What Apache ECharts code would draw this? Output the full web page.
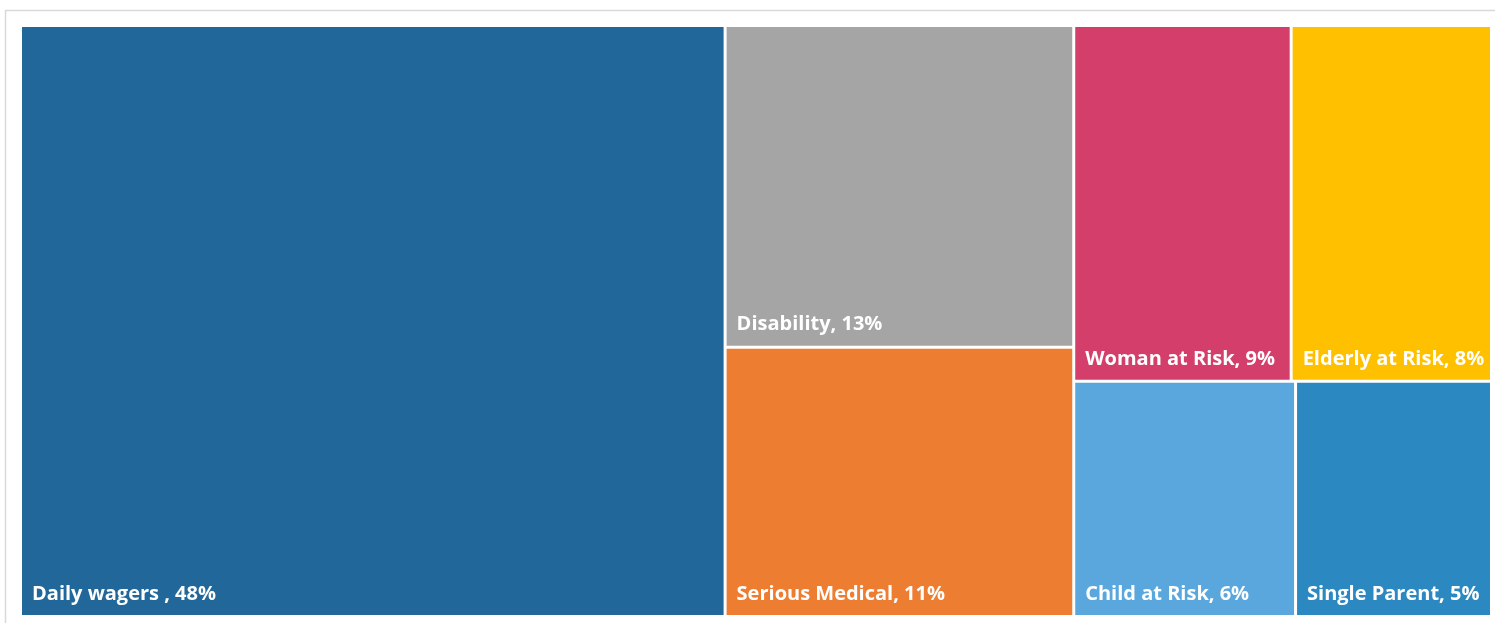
<!DOCTYPE html>
<html>
<head>
<meta charset="utf-8">
<script src="https://cdn.jsdelivr.net/npm/echarts@6/dist/echarts.min.js"></script>
<style>
html,body{margin:0;padding:0;background:#fff;}
#chart{width:1495px;height:623px;}
</style>
</head>
<body>
<div id="chart"></div>
<script>
// Data (labels show them rounded)
const categories = ['Daily wagers ', 'Disability', 'Serious Medical', 'Woman at Risk', 'Elderly at Risk', 'Child at Risk', 'Single Parent'];
const values = [47.9, 12.9, 10.8, 8.9, 8.2, 6.0, 5.3];
const colors = ['#21679A', '#A5A5A5', '#ED7D31', '#D33F6A', '#FFC000', '#5AA7DD', '#2C88C0'];
// Grouping (index lists) that reproduces the reference's column layout
const groups = [[0], [1, 2], [3, 4, 5, 6]];

function leaf(i) {
  return { name: categories[i], value: values[i], itemStyle: { color: colors[i] } };
}
const treeData = groups.map(function (g, gi) {
  if (g.length === 1) return leaf(g[0]);
  return { name: 'group' + gi, children: g.map(leaf) };
});

const chart = echarts.init(document.getElementById('chart'));
chart.setOption({
  animation: false,
  graphic: [{
    type: 'rect',
    shape: { x: 5.5, y: 10.5, width: 1520, height: 640 },
    style: { fill: 'none', stroke: '#D9D9D9', lineWidth: 1.5 },
    silent: true
  }],
  series: [{
    type: 'treemap',
    left: 22, top: 27, width: 1468, height: 588,
    roam: false,
    nodeClick: false,
    sort: false,
    squareRatio: 1,
    breadcrumb: { show: false },
    label: {
      show: true,
      position: 'insideBottomLeft',
      distance: 0,
      padding: [0, 0, 11, 10],
      overflow: 'none',
      color: '#fff',
      fontFamily: 'Open Sans',
      fontWeight: 'bold',
      fontSize: 20,
      formatter: function (p) { return p.name + ', ' + Math.round(p.value) + '%'; }
    },
    upperLabel: { show: false },
    itemStyle: { borderWidth: 0, gapWidth: 3 },
    emphasis: { disabled: true },
    levels: [
      { itemStyle: { borderWidth: 0, gapWidth: 3 } },
      { itemStyle: { borderWidth: 0, gapWidth: 3 } },
      { itemStyle: { borderWidth: 0, gapWidth: 3 } }
    ],
    data: treeData
  }]
});
</script>
</body>
</html>
